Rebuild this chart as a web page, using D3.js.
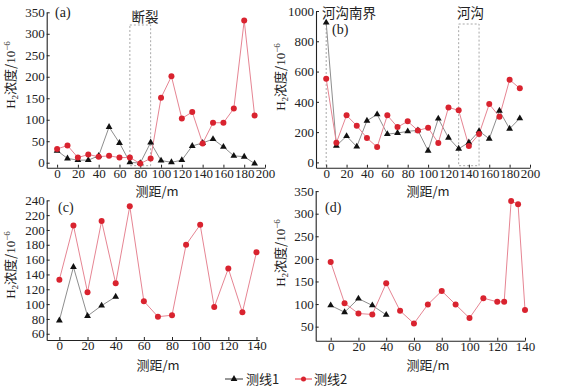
<!DOCTYPE html>
<html><head><meta charset="utf-8">
<script src="https://cdn.jsdelivr.net/npm/d3@7"></script>
<style>
body{margin:0;background:#fff}
svg{display:block}
.tick text{font-family:"Liberation Serif","Times New Roman",serif;font-size:13px;fill:#222}
.lbl{font-family:"Liberation Serif","Noto Sans CJK SC",serif;fill:#222}
</style></head><body>
<svg id="chart" width="569" height="388"></svg>
<script>
// ---- data ----
const seriesNames = ["测线1", "测线2"];
const panelLabels = ["(a)", "(b)", "(c)", "(d)"];
const yTitle = ["H", "2", "浓度/10", "−6"];
const xTitle = "测距/m";

const distA = [0,10,20,30,40,50,60,70,80,90,100,110,120,130,140,150,160,170,180,190];
const line1A = [28,10,6,6,16,83,46,1,-1,47,5,1,6,39,46,55,37,16,14,-2];
const line2A = [32,40,12,19,14,16,12,12,-2,10,151,201,103,118,45,93,93,126,331,110];

const distB = [0,10,20,30,40,50,60,70,80,90,100,110,120,130,140,150,160,170,180,190];
const line1B = [923,110,174,104,275,317,187,194,205,212,77,289,163,90,132,207,156,341,222,291];
const line2B = [553,130,311,242,161,101,311,233,271,211,229,128,363,344,108,187,385,302,546,489];

const distC1 = [0,10,20,30,40];
const line1C = [78,150,84,98,110];
const distC2 = [0,10,20,30,40,50,60,70,80,90,100,110,120,130,140];
const line2C = [133,206,116,212,128,232,104,83,85,180,207,96,148,89,170];

const distD1 = [0,10,20,30,40];
const line1D = [97,82,112,97,76];
const distD2 = [0,10,20,30,40,50,60,70,80,90,100,110,120,125,130,135,140];
const line2D = [193,102,79,77,146,85,57,99,129,99,69,113,105,105,328,321,87];

const ticksX200 = [0,20,40,60,80,100,120,140,160,180,200];
const ticksX140 = [0,20,40,60,80,100,120,140];
const ticksYA = [0,50,100,150,200,250,300,350];
const ticksYB = [0,200,400,600,800,1000];
const ticksYC = [60,80,100,120,140,160,180,200,220,240];
const ticksYD = [50,100,150,200,250,300,350];

const faultLabel = "断裂", faultRange = [70, 90];
const southLabel = "河沟南界", southAt = 0;
const gullyLabel = "河沟", gullyRange = [130, 150];

// ---- styles ----
const C1_LINE = "#8e8e8e", C1_MARK = "#111";
const C2_LINE = "#e68593", C2_MARK = "#d9232f";

const svg = d3.select("#chart");
const tri = d3.symbol().type(d3.symbolTriangle).size(20);
const fmt = d3.format("d");

function panel(p) {
  const g = svg.append("g");
  const x = d3.scaleLinear().domain(p.xd).range(p.xr);
  const y = d3.scaleLinear().domain(p.yd).range(p.yr);

  // annotations (behind)
  if (p.box) {
    g.append("rect")
      .attr("x", x(p.box[0])).attr("y", p.boxTop)
      .attr("width", x(p.box[1]) - x(p.box[0]))
      .attr("height", p.yr[0] - 2 - p.boxTop)
      .attr("fill", "none").attr("stroke", "#a8a8a8")
      .attr("stroke-width", 1).attr("stroke-dasharray", "2,2");
  }
  if (p.vline !== undefined) {
    g.append("line")
      .attr("x1", x(p.vline)).attr("x2", x(p.vline))
      .attr("y1", p.vTop).attr("y2", p.yr[0] - 2)
      .attr("stroke", "#a8a8a8").attr("stroke-dasharray", "2,2");
  }
  (p.notes || []).forEach(n => {
    g.append("text").attr("class", "lbl")
      .attr("x", n.x).attr("y", n.y).attr("text-anchor", n.anchor || "start")
      .style("font-size", "13.5px").style("font-family", "'Noto Sans CJK SC',sans-serif")
      .text(n.t);
  });

  const ax = g.append("g").attr("transform", `translate(0,${p.yr[0]})`)
    .style("color", "#222")
    .call(d3.axisBottom(x).tickValues(p.xt).tickFormat(fmt).tickSizeInner(-3).tickSizeOuter(0).tickPadding(1));
  const ay = g.append("g").attr("transform", `translate(${p.xr[0]},0)`)
    .style("color", "#222")
    .call(d3.axisLeft(y).tickValues(p.yt).tickFormat(fmt).tickSizeInner(-3).tickSizeOuter(0).tickPadding(2));
  ax.selectAll("text").attr("font-size", null).attr("font-family", null);
  ay.selectAll("text").attr("font-size", null).attr("font-family", null);
  ax.select(".domain").attr("stroke-width", 1.1);
  ay.select(".domain").attr("stroke-width", 1.1);

  const line = d3.line().x(d => x(d[0])).y(d => y(d[1]));
  const s1 = p.x1.map((v, i) => [v, p.v1[i]]);
  const s2 = p.x2.map((v, i) => [v, p.v2[i]]);
  g.append("path").attr("d", line(s1)).attr("fill", "none").attr("stroke", C1_LINE).attr("stroke-width", 1);
  g.append("path").attr("d", line(s2)).attr("fill", "none").attr("stroke", C2_LINE).attr("stroke-width", 1);
  g.selectAll(".m1").data(s1).enter().append("path")
    .attr("d", tri).attr("fill", C1_MARK)
    .attr("transform", d => `translate(${x(d[0])},${y(d[1])})`);
  g.selectAll(".m2").data(s2).enter().append("circle")
    .attr("cx", d => x(d[0])).attr("cy", d => y(d[1])).attr("r", 3).attr("fill", C2_MARK);

  // panel label
  g.append("text").attr("class", "lbl").attr("x", p.lab[0]).attr("y", p.lab[1])
    .style("font-size", "14px").text(p.label);

  // y title
  const yt = g.append("text").attr("class", "lbl")
    .attr("transform", `translate(${p.yTitle[0]},${p.yTitle[1]}) rotate(-90)`)
    .attr("text-anchor", "middle").style("font-size", "13px");
  yt.append("tspan").text(yTitle[0]);
  yt.append("tspan").attr("dy", 3).style("font-size", "9px").text(yTitle[1]);
  yt.append("tspan").attr("dy", -3).style("font-family", "'Noto Sans CJK SC','Liberation Serif',serif").text(yTitle[2].slice(0,3));
  yt.append("tspan").text(yTitle[2].slice(3));
  yt.append("tspan").attr("dy", -5).style("font-size", "9px").text(yTitle[3]);

  // x title
  g.append("text").attr("class", "lbl")
    .attr("x", p.xTitle[0]).attr("y", p.xTitle[1]).attr("text-anchor", "middle")
    .style("font-size", "13px").style("font-family", "'Noto Sans CJK SC','Liberation Serif',serif")
    .text(xTitle);
}

panel({
  xd: [-10, 200], xr: [46.7, 265], yd: [-11.6, 350], yr: [167.7, 12.3],
  xt: ticksX200, yt: ticksYA,
  x1: distA, v1: line1A, x2: distA, v2: line2A,
  box: faultRange, boxTop: 25,
  notes: [{t: faultLabel, x: 145, y: 22, anchor: "middle"}],
  label: panelLabels[0], lab: [55, 17],
  yTitle: [15, 75], xTitle: [157, 196]
});
panel({
  xd: [-10, 200], xr: [316, 530], yd: [-35, 1000], yr: [167.7, 11],
  xt: ticksX200, yt: ticksYB,
  x1: distB, v1: line1B, x2: distB, v2: line2B,
  box: gullyRange, boxTop: 24, vline: southAt, vTop: 20,
  notes: [{t: southLabel, x: 322, y: 18}, {t: gullyLabel, x: 457, y: 18}],
  label: panelLabels[1], lab: [332, 34],
  yTitle: [285, 77], xTitle: [428, 196]
});
panel({
  xd: [-9, 142], xr: [46.7, 259.3], yd: [51.6, 240], yr: [340, 200.3],
  xt: ticksX140, yt: ticksYC,
  x1: distC1, v1: line1C, x2: distC2, v2: line2C,
  label: panelLabels[2], lab: [58, 212],
  yTitle: [15, 265], xTitle: [158, 369.5]
});
panel({
  xd: [-10.8, 140], xr: [315.7, 525], yd: [18.9, 350], yr: [340.7, 191.1],
  xt: ticksX140, yt: ticksYD,
  x1: distD1, v1: line1D, x2: distD2, v2: line2D,
  label: panelLabels[3], lab: [325, 212],
  yTitle: [285, 253], xTitle: [428, 369.5]
});

// legend
const lg = svg.append("g");
lg.append("line").attr("x1", 225).attr("x2", 243).attr("y1", 379).attr("y2", 379).attr("stroke", "#333");
lg.append("path").attr("d", tri).attr("fill", C1_MARK).attr("transform", "translate(234,379)");
lg.append("text").attr("class", "lbl").attr("x", 246).attr("y", 384).style("font-size", "13px")
  .style("font-family", "'Noto Sans CJK SC','Liberation Serif',serif").text(seriesNames[0]);
lg.append("line").attr("x1", 295).attr("x2", 312).attr("y1", 379).attr("y2", 379).attr("stroke", "#e8303c");
lg.append("circle").attr("cx", 303.5).attr("cy", 379).attr("r", 2.5).attr("fill", C2_MARK);
lg.append("text").attr("class", "lbl").attr("x", 314).attr("y", 384).style("font-size", "13px")
  .style("font-family", "'Noto Sans CJK SC','Liberation Serif',serif").text(seriesNames[1]);
</script>
</body></html>
